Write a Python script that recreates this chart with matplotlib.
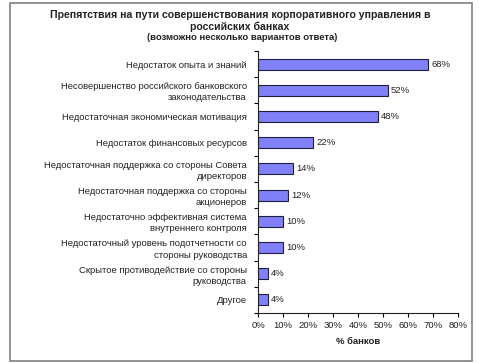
import matplotlib
matplotlib.use("Agg")
import matplotlib.pyplot as plt
from matplotlib.patches import Rectangle
from matplotlib.ticker import FixedLocator, NullLocator

plt.rcParams['font.family'] = ['Liberation Sans', 'DejaVu Sans']

categories = [
    "Недостаток опыта и знаний",
    "Несовершенство российского банковского\nзаконодательства",
    "Недостаточная экономическая мотивация",
    "Недостаток финансовых ресурсов",
    "Недостаточная поддержка со стороны Совета\nдиректоров",
    "Недостаточная поддержка со стороны\nакционеров",
    "Недостаточно эффективная система\nвнутреннего контроля",
    "Недостаточный уровень подотчетности со\nстороны руководства",
    "Скрытое противодействие со стороны\nруководства",
    "Другое",
]
values = [68, 52, 48, 22, 14, 12, 10, 10, 4, 4]
xticks = [0, 10, 20, 30, 40, 50, 60, 70, 80]

title_main = "Препятствия на пути совершенствования корпоративного управления в\nроссийских банках"
title_sub = "(возможно несколько вариантов ответа)"
xlabel_text = "% банков"

W, H = 482, 363
fig = plt.figure(figsize=(W / 100, H / 100), dpi=100)
fig.patch.set_facecolor("white")

# outer frame
fig.add_artist(Rectangle((9.5 / W, 1 - 361 / H), (471.5 - 9.5) / W, (361 - 3) / H,
                         transform=fig.transFigure, fill=False,
                         edgecolor="#808080", linewidth=1.2))

ax = fig.add_axes([258 / W, 1 - 313 / H, 200 / W, (313 - 51) / H])
n = len(categories)
ypos = list(range(n))
ax.barh(ypos, values, height=0.42, color="#8080f8", edgecolor="#1f1f3f", linewidth=0.8)
ax.set_ylim(n - 0.5, -0.5)
ax.set_xlim(0, 80)

ax.set_yticks(ypos)
ax.set_yticklabels(categories, fontsize=6.8, color="#222222", linespacing=1.3)
ax.tick_params(axis='y', which='major', length=0, pad=8)
ax.yaxis.set_minor_locator(FixedLocator([i - 0.5 for i in range(n + 1)]))
ax.tick_params(axis='y', which='minor', length=3, width=0.8, direction='out')

ax.set_xticks(xticks)
ax.set_xticklabels([f"{t}%" for t in xticks], fontsize=6.8, color="#222222")
ax.tick_params(axis='x', length=3, width=0.8, direction='out', pad=3)
ax.xaxis.set_minor_locator(NullLocator())

for s in ["top", "right"]:
    ax.spines[s].set_visible(False)
for s in ["left", "bottom"]:
    ax.spines[s].set_color("#222222")
    ax.spines[s].set_linewidth(0.8)

for y, v in zip(ypos, values):
    ax.text(v + 1.2, y, f"{v}%", va="center", ha="left", fontsize=6.8, color="#222222")

ax.set_xlabel(xlabel_text, fontsize=6.8, fontweight="bold", color="#222222", labelpad=5)

fig.text(240 / W, 1 - 21 / H, title_main, ha="center", va="center",
         fontsize=7.6, fontweight="bold", color="#222222", linespacing=1.2)
fig.text(242 / W, 1 - 37 / H, title_sub, ha="center", va="center",
         fontsize=6.8, fontweight="bold", color="#222222")

fig.savefig("out.png", dpi=100)
